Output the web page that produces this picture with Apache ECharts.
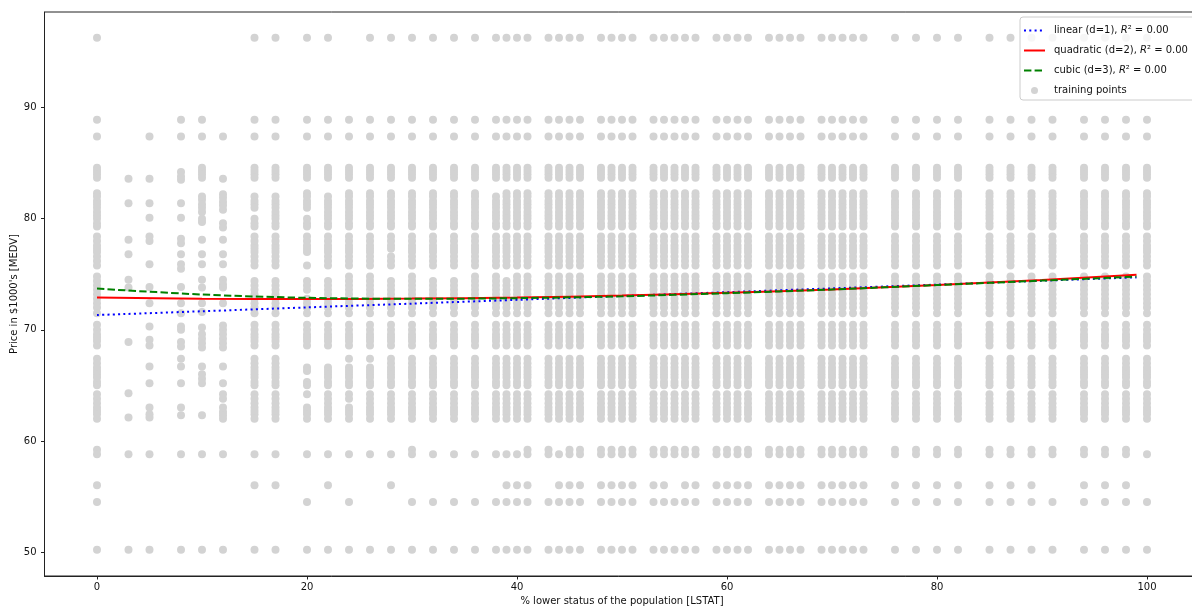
<!DOCTYPE html>
<html>
<head>
<meta charset="utf-8">
<script src="https://cdn.jsdelivr.net/npm/echarts@6/dist/echarts.min.js"></script>
<style>
  html, body { margin: 0; padding: 0; background: #ffffff; }
  #chart { width: 1192px; height: 606px; }
</style>
</head>
<body>
<div id="chart"></div>
<script>
// LSTAT columns present in the training set
const lstatColumns = [0, 3, 5, 8, 10, 12, 15, 17, 20, 22, 24, 26, 28, 30, 32, 34, 36, 38, 39, 40, 41,
  43, 44, 45, 46, 48, 49, 50, 51, 53, 54, 55, 56, 57, 59, 60, 61, 62, 64, 65, 66, 67,
  69, 70, 71, 72, 73, 76, 78, 80, 82, 85, 87, 89, 91, 94, 96, 98, 100];

// MEDV levels that fill the densely populated columns (seven bands)
const bandLevels = [
  84.6, 84.3, 84.0, 83.7,
  82.3, 82.0, 81.6, 81.3, 81.0, 80.6, 80.3, 80.0, 79.6, 79.3,
  78.4, 78.0, 77.6, 77.3, 77.0, 76.6, 76.2, 75.8,
  74.8, 74.4, 74.0, 73.6, 73.2, 72.8, 72.4, 72.0, 71.5,
  70.45, 70.0, 69.6, 69.3, 69.0, 68.6,
  67.4, 67.0, 66.6, 66.3, 66.0, 65.7, 65.3, 65.0,
  64.2, 63.8, 63.4, 63.0, 62.7, 62.4, 62.0
];

// columns whose bands are populated
const denseColumns = lstatColumns.filter(x => [3, 5, 8, 10, 12].indexOf(x) < 0);

// band levels missing in some of the dense columns
const bandGaps = [
  [15, [82.3, 80.6, 80.3, 74.8]],
  [17, [82.3, 74.8]],
  [20, [80.6, 80.3, 76.6, 76.2, 74.8, 73.2, 67.4, 67.0, 66.0, 65.7, 63.8, 63.4]],
  [22, [82.3, 74.8, 67.4, 67.0]],
  [24, [67.0, 63.4]],
  [26, [67.0]],
  [28, [77.0, 74.8]],
  [32, [74.8]],
  [34, [74.8]],
  [38, [82.3]],
  [39, [74.8]]
];

// sparse low-LSTAT columns
const col3 = [83.6, 81.4, 78.1, 76.8, 74.5, 73.8, 68.9, 64.3, 62.1];
const col5 = [83.6, 81.4, 80.1, 78.4, 78.0, 75.9, 73.85, 72.4, 70.3, 69.1, 68.6, 66.7, 65.2, 63.0, 62.4, 62.1];
const col8 = [84.2, 83.8, 83.5, 81.4, 80.1, 78.2, 77.8, 76.8, 75.9, 75.5, 73.85, 72.4, 71.5, 70.3, 70.0,
  68.9, 68.5, 67.4, 66.7, 65.2, 63.0, 62.3];
const col10 = [84.6, 84.3, 84.0, 83.7, 82.0, 81.7, 81.3, 81.0, 80.6, 80.0, 79.7, 78.1, 76.8, 75.9, 74.5, 73.8,
  72.4, 71.6, 70.2, 69.6, 69.2, 68.8, 68.4, 66.7, 66.0, 65.6, 65.2, 62.3];
const col12 = [83.6, 82.2, 81.9, 81.5, 81.2, 80.8, 79.6, 79.2, 78.1, 76.8, 75.9, 74.5, 74.1, 73.8, 72.4,
  70.4, 70.0, 69.6, 69.2, 68.8, 68.4, 66.7, 65.2, 64.2, 63.8, 63.0, 62.6, 62.3, 62.0];
const sparseColumns = [[3, col3], [5, col5], [8, col8], [10, col10], [12, col12]];

// isolated MEDV rows and the columns that have a point on them
const rowLevels = [96.3, 88.9, 87.4, 59.2, 58.8, 56.0, 54.5, 50.2];
const row963 = lstatColumns.filter(x => [3, 5, 8, 10, 12, 24].indexOf(x) < 0);
const row889 = lstatColumns.filter(x => [3, 5, 12].indexOf(x) < 0);
const row874 = lstatColumns.filter(x => x !== 3);
const row592 = [0, 30, 41, 43, 45, 46, 48, 49, 50, 51, 53, 54, 55, 56, 57, 59, 60, 61, 62, 64, 65, 66, 67,
  69, 70, 71, 72, 73, 76, 78, 80, 82, 85, 87, 89, 91, 94, 96, 98];
const row588 = lstatColumns;
const row560 = [0, 15, 17, 22, 28, 39, 40, 41, 44, 45, 46, 48, 49, 50, 51, 53, 54, 56, 57, 59, 60, 61, 62,
  64, 65, 66, 67, 69, 70, 71, 72, 73, 76, 78, 80, 82, 85, 87, 89, 94, 96, 98];
const row545 = [0, 20, 24, 30, 32, 34].concat(lstatColumns.filter(x => x >= 36));
const row502 = lstatColumns;
const rowMembers = [row963, row889, row874, row592, row588, row560, row545, row502];

// fitted polynomial curves
const fitX = [0, 10, 20, 30, 40, 50, 60, 70, 80, 90, 99];
const linearY = [71.33, 71.67, 72.02, 72.36, 72.70, 73.05, 73.39, 73.73, 74.07, 74.42, 74.72];
const quadraticY = [72.91, 72.80, 72.77, 72.81, 72.91, 73.08, 73.33, 73.64, 74.03, 74.49, 74.96];
const cubicY = [73.71, 73.18, 72.88, 72.79, 72.85, 73.02, 73.30, 73.63, 74.03, 74.43, 74.79];
const fitNames = ['linear (d=1)', 'quadratic (d=2)', 'cubic (d=3)'];
const fitScores = [0.00, 0.00, 0.00];

// axis ticks
const xTicks = [0, 20, 40, 60, 80, 100];
const yTicks = [50, 60, 70, 80, 90];

// assemble the training points
const trainingPoints = [];
denseColumns.forEach(x => {
  const gap = bandGaps.find(g => g[0] === x);
  bandLevels.forEach(y => {
    if (!gap || gap[1].indexOf(y) < 0) trainingPoints.push([x, y]);
  });
});
sparseColumns.forEach(([x, ys]) => ys.forEach(y => trainingPoints.push([x, y])));
rowLevels.forEach((y, i) => rowMembers[i].forEach(x => trainingPoints.push([x, y])));

const curve = ys => fitX.map((x, i) => [x, ys[i]]);

const font = 'DejaVu Sans';
const hiddenSymbol = { opacity: 0 };
const chart = echarts.init(document.getElementById('chart'), null, { renderer: 'canvas' });
chart.setOption({
  animation: false,
  backgroundColor: '#ffffff',
  grid: {
    left: 44.5, top: 12, width: 1155, height: 564,
    outerBoundsMode: 'none', containLabel: false,
    show: true, borderColor: '#222', borderWidth: 1, backgroundColor: 'transparent'
  },
  xAxis: {
    type: 'value', min: -5, max: 105,
    name: '% lower status of the population [LSTAT]',
    nameLocation: 'middle', nameGap: 20, nameMoveOverlap: false,
    nameTextStyle: { fontFamily: font, fontSize: 10, color: '#111' },
    axisLine: { show: true, onZero: false, lineStyle: { color: '#222', width: 1 } },
    axisTick: { show: true, customValues: xTicks, length: 3.5, lineStyle: { color: '#222', width: 1 } },
    axisLabel: { customValues: xTicks, fontFamily: font, fontSize: 10, color: '#111', margin: 6 },
    splitLine: { show: false }
  },
  yAxis: {
    type: 'value', min: 47.84, max: 98.61,
    name: "Price in $1000's [MEDV]",
    nameLocation: 'middle', nameGap: 25, nameMoveOverlap: false,
    nameTextStyle: { fontFamily: font, fontSize: 10, color: '#111' },
    axisLine: { show: true, onZero: false, lineStyle: { color: '#222', width: 1 } },
    axisTick: { show: true, customValues: yTicks, length: 3.5, lineStyle: { color: '#222', width: 1 } },
    axisLabel: { customValues: yTicks, fontFamily: font, fontSize: 10, color: '#111', margin: 8 },
    splitLine: { show: false }
  },
  legend: {
    data: [
      { name: fitNames[0], itemStyle: hiddenSymbol },
      { name: fitNames[1], itemStyle: hiddenSymbol },
      { name: fitNames[2], itemStyle: hiddenSymbol },
      { name: 'training points', icon: 'circle' }
    ],
    orient: 'vertical', left: 1020, top: 17,
    padding: [7, 10, 3, 3],
    itemWidth: 21, itemHeight: 7, itemGap: 7,
    backgroundColor: 'rgba(255,255,255,0.8)',
    borderColor: '#cccccc', borderWidth: 1, borderRadius: 3,
    selectedMode: false,
    formatter: name => {
      const i = fitNames.indexOf(name);
      if (i < 0) return name;
      return name + ', {it|R}² = ' + fitScores[i].toFixed(2);
    },
    textStyle: {
      fontFamily: font, fontSize: 10, color: '#111', lineHeight: 13, padding: [0, 0, 0, 4],
      rich: { it: { fontFamily: font, fontSize: 10, fontStyle: 'italic', color: '#111' } }
    }
  },
  series: [
    {
      name: 'training points', type: 'scatter', data: trainingPoints,
      symbol: 'circle', symbolSize: 8, progressive: 0, large: false,
      itemStyle: { color: '#d3d3d3', opacity: 1 },
      emphasis: { disabled: true }, silent: true
    },
    {
      name: fitNames[0], type: 'line', data: curve(linearY), smooth: 0.3,
      symbol: 'none', showSymbol: false, silent: true,
      lineStyle: { color: '#0000ff', width: 2, type: [2, 3.3] },
      itemStyle: { color: '#0000ff' }
    },
    {
      name: fitNames[1], type: 'line', data: curve(quadraticY), smooth: 0.3,
      symbol: 'none', showSymbol: false, silent: true,
      lineStyle: { color: '#ff0000', width: 2, type: 'solid' },
      itemStyle: { color: '#ff0000' }
    },
    {
      name: fitNames[2], type: 'line', data: curve(cubicY), smooth: 0.3,
      symbol: 'none', showSymbol: false, silent: true,
      lineStyle: { color: '#008000', width: 2, type: [7.4, 3.2] },
      itemStyle: { color: '#008000' }
    }
  ]
});
</script>
</body>
</html>
